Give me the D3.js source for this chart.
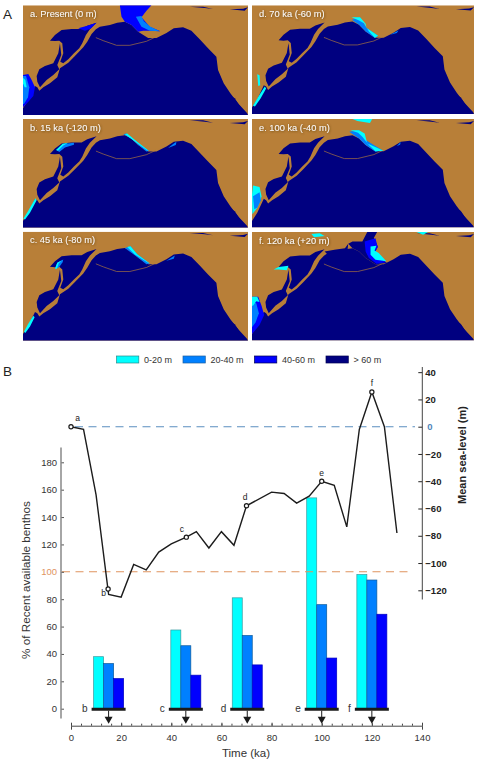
<!DOCTYPE html>
<html><head><meta charset="utf-8">
<script src="https://cdn.jsdelivr.net/npm/d3@7"></script>
<style>html,body{margin:0;padding:0;background:#fff}svg{display:block}text{font-family:"Liberation Sans",Arial,sans-serif}</style>
</head><body><svg id="c" width="484" height="764"></svg>
<script>
// ---- chart data
const seaTime  = [0,5,10,15,20,25,30,35,40,46,50,55,60,65,70,80,85,90,95,100,105,110,115,120,125,130];
const seaLevel = [0,-2,-50,-123,-125,-101,-105,-92,-86,-81,-77,-89,-77,-87,-58,-48,-49,-56,-51,-40,-43,-73.5,-2,25.5,0,-78];
const markerNames = ["a","b","c","d","e","f"];
const markerTime  = [0,14.8,46,70,100,120];
const markerLevel = [0,-119,-81,-58,-40,25.5];
const groupNames  = ["b","c","d","e","f"];
const groupTime   = [15,45.8,70.3,100,120];
const depthBins   = ["0-20 m","20-40 m","40-60 m"];
const benthos0_20  = [38,57.5,81,154,98];
const benthos20_40 = [33,46,53.5,76,94];
const benthos40_60 = [22,24.5,32,37,69];
const legendLabels = ["0-20 m","20-40 m","40-60 m","> 60 m"];
const legendColors = ["#00FFFF","#0080FF","#0000FF","#000080"];
const timeTicks = [0,20,40,60,80,100,120,140];
const pctTicks  = [0,20,40,60,80,100,120,140,160,180];
const seaTicks  = [40,20,0,-20,-40,-60,-80,-100,-120];
// ---- map outlines, in map units (676 x 329 frame starting at 69,16)
const pacific = [[69,345],[69,325],[85,300],[105,258],[112,262],[118,272],[130,262],[150,250],[172,232],[180,205],[205,188],[225,168],[250,142],[262,125],[275,102],[288,88],[300,80],[330,75],[352,68],[375,65],[395,75],[415,95],[445,114],[470,114],[500,99],[522,85],[550,82],[575,92],[600,118],[625,145],[650,170],[655,210],[672,250],[692,280],[715,310],[742,339],[745,345]];
const okhotsk = [[150,122],[165,105],[185,90],[215,87],[245,87],[262,77],[290,68],[270,88],[258,105],[247,130],[238,145],[222,160],[205,178],[190,190],[181,185],[190,160],[187,130],[178,122],[165,123]];
const japanSea = [[110,228],[118,208],[135,198],[160,190],[175,160],[180,130],[184,165],[172,195],[178,208],[160,225],[140,240],[120,262],[112,245]];
const aleutian = [[482,104],[440,124],[390,136],[350,136],[310,122],[288,113]];
const gulfCal  = [[693,287],[705,295],[726,326],[715,318],[700,300]];
const arctic1  = [[570,20],[610,20],[640,27],[615,24]];
const arctic2  = [[690,28],[730,26],[745,22],[735,32]];
// shelf flooding by panel: [colour index, outline]
const shelvesA = [
 [2,[[365,50],[360,16],[455,16],[440,32],[425,52],[450,80],[482,94],[450,92],[430,92],[415,95],[395,75],[375,65]]],
 [1,[[408,50],[425,48],[432,64],[452,80],[480,94],[450,92],[425,80]]],
 [2,[[69,225],[85,222],[95,240],[105,262],[100,288],[85,305],[69,322]]],
 [1,[[69,228],[78,228],[88,262],[84,292],[72,312],[69,312]]],
 [0,[[69,233],[76,240],[80,262],[74,262],[69,250]]],
 [2,[[235,85],[262,77],[290,68],[272,86],[255,92]]]
];
const shelvesB = [
 [1,[[370,62],[380,60],[410,85],[447,112],[440,114],[415,95],[395,75]]],
 [0,[[375,62],[382,60],[412,85],[447,112],[442,111],[410,88]]],
 [1,[[170,110],[190,92],[222,88],[222,94],[195,102],[178,116]]],
 [0,[[168,110],[188,91],[205,88],[190,96],[174,112]]],
 [0,[[70,318],[84,295],[106,256],[110,262],[90,300],[75,320]]],
 [1,[[520,92],[530,85],[528,95],[505,104]]]
];
const shelvesC = [
 [1,[[375,65],[392,60],[412,84],[450,112],[440,114],[415,95]]],
 [0,[[382,62],[392,60],[412,84],[450,112],[444,110],[405,85]]],
 [1,[[165,128],[172,110],[190,100],[188,108],[176,125]]],
 [0,[[165,128],[172,110],[186,102],[176,112],[171,128]]],
 [0,[[72,318],[84,295],[100,270],[104,274],[90,302],[76,322]]],
 [1,[[500,104],[525,88],[522,98]]]
];
const shelvesD = [
 [1,[[373,60],[398,52],[418,85],[453,108],[443,115],[415,95],[395,75]]],
 [0,[[372,52],[398,52],[415,72],[418,85],[453,108],[443,114],[425,95],[410,70],[395,62]]],
 [0,[[85,225],[92,228],[94,258],[88,260]]],
 [0,[[72,320],[90,290],[108,262],[112,268],[95,298],[78,322]]],
 [1,[[490,105],[515,92],[510,100]]]
];
const shelvesE = [
 [1,[[365,55],[395,50],[415,80],[465,110],[445,115],[415,95],[395,75]]],
 [0,[[368,50],[395,50],[412,60],[420,90],[470,112],[445,114],[425,95],[405,70],[392,58]]],
 [0,[[375,16],[435,16],[428,28],[390,22]]],
 [0,[[72,218],[92,222],[98,250],[95,262],[85,285],[70,305],[69,245]]],
 [1,[[72,250],[92,238],[96,262],[85,285],[76,290]]],
 [1,[[510,98],[522,86],[520,94]]]
];
const shelvesF = [
 [3,[[362,52],[375,45],[405,45],[420,16],[450,16],[440,34],[452,60],[440,85],[480,110],[445,114],[415,95],[395,75],[375,65]]],
 [2,[[412,45],[445,35],[452,62],[438,85],[478,108],[448,112],[425,95],[415,75]]],
 [0,[[430,60],[448,58],[442,72],[455,80],[478,105],[445,100],[430,85]]],
 [0,[[250,22],[275,20],[290,28],[258,32]]],
 [0,[[570,16],[605,16],[590,24]]],
 [3,[[290,75],[320,70],[352,65],[362,52],[360,70],[340,82],[300,85]]],
 [0,[[135,130],[150,122],[180,118],[175,132],[150,130]]],
 [2,[[69,212],[88,212],[98,240],[106,268],[92,298],[69,325]]],
 [1,[[69,225],[82,232],[90,262],[80,290],[69,305]]],
 [0,[[69,212],[85,212],[92,228],[82,226],[72,240],[69,240]]]
];
const panelNames = ["a. Present (0 m)","b. 15 ka (-120 m)","c. 45 ka (-80 m)","d. 70 ka (-60 m)","e. 100 ka (-40 m)","f. 120 ka (+20 m)"];
const panelShelves = [shelvesA,shelvesB,shelvesC,shelvesD,shelvesE,shelvesF];
const panelX = [[23,248],[23,248],[23,248],[252,474],[252,474],[252,474]];
const panelY = [[5.3,115],[119,227.7],[231.7,340.7],[5.3,114],[119,227.5],[232,340.5]];

const svg = d3.select("#c");
const LAND="#B87F38";
const defs = svg.append("defs");
const blur = defs.append("filter").attr("id","soft").attr("x","-5%").attr("y","-5%").attr("width","110%").attr("height","110%");
blur.append("feGaussianBlur").attr("stdDeviation",0.45);
const shadow = defs.append("filter").attr("id","glow").attr("x","-10%").attr("y","-40%").attr("width","120%").attr("height","180%");
shadow.append("feDropShadow").attr("dx",0.6).attr("dy",0.6).attr("stdDeviation",1.2).attr("flood-color","#5a3a10").attr("flood-opacity",0.9);

panelNames.forEach((name,i)=>{
  const mx = d3.scaleLinear().domain([69,745]).range(panelX[i]);
  const my = d3.scaleLinear().domain([16,345]).range(panelY[i]);
  const line = d3.line().x(d=>mx(d[0])).y(d=>my(d[1]));
  const closed = p => line(p)+"Z";
  const clip = "clip"+i;
  defs.append("clipPath").attr("id",clip).append("rect")
    .attr("x",panelX[i][0]).attr("y",panelY[i][0])
    .attr("width",panelX[i][1]-panelX[i][0]).attr("height",panelY[i][1]-panelY[i][0]);
  const outer = svg.append("g").attr("clip-path",`url(#${clip})`);
  outer.append("rect").attr("x",panelX[i][0]).attr("y",panelY[i][0])
    .attr("width",panelX[i][1]-panelX[i][0]).attr("height",panelY[i][1]-panelY[i][0]).attr("fill",LAND);
  const g = outer.append("g").attr("filter","url(#soft)");
  g.selectAll("path.sea").data([pacific,okhotsk,japanSea,gulfCal,arctic1,arctic2]).join("path")
    .attr("d",closed).attr("fill",legendColors[3]);
  g.append("path").attr("d",line(aleutian)).attr("fill","none").attr("stroke",LAND).attr("stroke-width",0.8).attr("opacity",0.8);
  g.selectAll("path.shelf").data(panelShelves[i]).join("path")
    .attr("d",d=>closed(d[1])).attr("fill",d=>legendColors[d[0]]);
  outer.append("text").attr("x",panelX[i][0]+7).attr("y",panelY[i][0]+11.5)
    .attr("font-size",9.3).attr("fill","#fff").attr("fill-opacity",0.95).attr("filter","url(#glow)").text(name);
});

svg.append("text").attr("x",3).attr("y",19).attr("font-size",13.5).attr("fill","#222").text("A");
svg.append("text").attr("x",3).attr("y",376).attr("font-size",13.5).attr("fill","#222").text("B");

// legend
const legendX=[116.5,183,254.5,326];
legendLabels.forEach((t,i)=>{
  svg.append("rect").attr("x",legendX[i]).attr("y",356).attr("width",22.3).attr("height",7)
    .attr("fill",legendColors[i]).attr("stroke",i==0?"#2a8a8a":i==1?"#1f5f9f":"#000050").attr("stroke-width",0.7);
  svg.append("text").attr("x",legendX[i]+27.5).attr("y",362.5).attr("font-size",9).attr("fill","#333").text(t);
});

// scales
const x = d3.scaleLinear().domain([0,140]).range([71,422]);
const yL = d3.scaleLinear().domain([0,180]).range([708.7,462.3]);
const yR = d3.scaleLinear().domain([0,-120]).range([426.7,590.3]);
const axisY=725.7;

// bars
const bin = d3.scaleBand().domain(depthBins).range([-15,15]);
const series=[benthos0_20,benthos20_40,benthos40_60];
const strokeC=["#3a9a9f","#0d5a9a","#0000c0"];
groupNames.forEach((n,gi)=>{
  const cx=x(groupTime[gi]);
  depthBins.forEach((b,si)=>{
    svg.append("rect").attr("x",cx+bin(b)).attr("width",bin.bandwidth())
      .attr("y",yL(series[si][gi])).attr("height",yL(0)-yL(series[si][gi]))
      .attr("fill",legendColors[si]).attr("stroke",strokeC[si]).attr("stroke-width",0.7);
  });
  svg.append("line").attr("x1",cx-17).attr("x2",cx+17).attr("y1",yL(0)+0.5).attr("y2",yL(0)+0.5).attr("stroke","#1a1a1a").attr("stroke-width",3);
  svg.append("text").attr("x",cx-21).attr("y",yL(0)+3.5).attr("text-anchor","end").attr("font-size",10).attr("fill","#333").text(n);
  svg.append("line").attr("x1",cx).attr("x2",cx).attr("y1",yL(0)+2).attr("y2",yL(0)+10).attr("stroke","#1a1a1a").attr("stroke-width",1);
  svg.append("path").attr("d",`M${cx-4},${yL(0)+8}L${cx+4},${yL(0)+8}L${cx},${yL(0)+15}Z`).attr("fill","#1a1a1a");
});

// reference lines
svg.append("line").attr("x1",75).attr("x2",415).attr("y1",yR(0)).attr("y2",yR(0))
  .attr("stroke","#5b8fc0").attr("stroke-width",1.1).attr("stroke-dasharray","8 5.5");
svg.append("line").attr("x1",62).attr("x2",413).attr("y1",yL(100)).attr("y2",yL(100))
  .attr("stroke","#E0945F").attr("stroke-width",1.1).attr("stroke-dasharray","8 5.5");

// sea level
svg.append("path").datum(seaTime.map((t,i)=>[t,seaLevel[i]]))
  .attr("d",d3.line().x(d=>x(d[0])).y(d=>yR(d[1])))
  .attr("fill","none").attr("stroke","#1c1c1c").attr("stroke-width",1.4).attr("stroke-linejoin","miter");
svg.selectAll("circle.m").data(markerNames).join("circle")
  .attr("cx",(d,i)=>x(markerTime[i])).attr("cy",(d,i)=>yR(markerLevel[i])).attr("r",2.1)
  .attr("fill","#fff").attr("stroke","#1c1c1c").attr("stroke-width",1.2);
const labOff={a:[6.5,-5.5],b:[-4.5,7.5],c:[-4.5,-5],d:[-1.5,-5.5],e:[0,-5.5],f:[0,-6]};
markerNames.forEach((n,i)=>{
  svg.append("text").attr("x",x(markerTime[i])+labOff[n][0]).attr("y",yR(markerLevel[i])+labOff[n][1])
    .attr("text-anchor","middle").attr("font-size",8.5).attr("fill","#222").text(n);
});

// bottom axis
const gx = svg.append("g").attr("transform",`translate(0,${axisY})`);
gx.call(d3.axisBottom(x).tickValues(timeTicks).tickSize(4).tickPadding(2).tickFormat(d3.format("d")));
gx.selectAll(".domain").attr("stroke","#444");
gx.selectAll(".tick line").attr("stroke","#444").attr("y2",-3).attr("y1",0);
gx.selectAll("text").attr("font-size",9.5).attr("fill","#333").attr("font-family","Liberation Sans").attr("dy",0).attr("y",15);
const gxMinor = svg.append("g").attr("transform",`translate(0,${axisY})`);
gxMinor.call(d3.axisBottom(x).tickValues(d3.range(0,141,4)).tickSize(0).tickFormat(""));
gxMinor.select(".domain").remove();
gxMinor.selectAll(".tick line").attr("stroke","#444").attr("y2",-2);
svg.append("text").attr("x",246).attr("y",757).attr("text-anchor","middle").attr("font-size",11.5).attr("fill","#333").text("Time (ka)");

// left axis
const gl = svg.append("g").attr("transform","translate(61,0)");
gl.call(d3.axisLeft(yL).tickValues(pctTicks).tickSize(-3).tickPadding(2).tickFormat(d3.format("d")));
gl.select(".domain").remove();
svg.append("line").attr("x1",61).attr("x2",61).attr("y1",447.5).attr("y2",718.5).attr("stroke","#888").attr("stroke-width",1.5);
gl.selectAll(".tick line").attr("stroke","#555");
gl.selectAll("text").attr("font-size",9.5).attr("fill","#333").attr("font-family","Liberation Sans").attr("x",-4);
gl.selectAll(".tick").filter(d=>d===100).select("text").attr("fill","#E0945F");
svg.append("text").attr("transform","translate(29.5,580) rotate(-90)").attr("text-anchor","middle").attr("font-size",11.7).attr("fill","#333").text("% of Recent available benthos");

// right axis
const gr = svg.append("g").attr("transform","translate(422.3,0)");
gr.call(d3.axisRight(yR).tickValues(seaTicks).tickSize(-4).tickPadding(3).tickFormat(d3.format("d")));
gr.select(".domain").remove();
svg.append("line").attr("x1",422.3).attr("x2",422.3).attr("y1",367).attr("y2",599.5).attr("stroke","#444").attr("stroke-width",1);
gr.selectAll(".tick line").attr("stroke","#222");
gr.selectAll("text").attr("font-size",9.5).attr("font-weight","bold").attr("fill","#222").attr("font-family","Liberation Sans").attr("x",3);
gr.selectAll(".tick").filter(d=>d===0).select("text").attr("fill","#4f86bb").attr("x",5);
svg.append("text").attr("transform","translate(466,455) rotate(-90)").attr("text-anchor","middle").attr("font-size",11).attr("font-weight","bold").attr("fill","#222").text("Mean sea-level (m)");
</script></body></html>
